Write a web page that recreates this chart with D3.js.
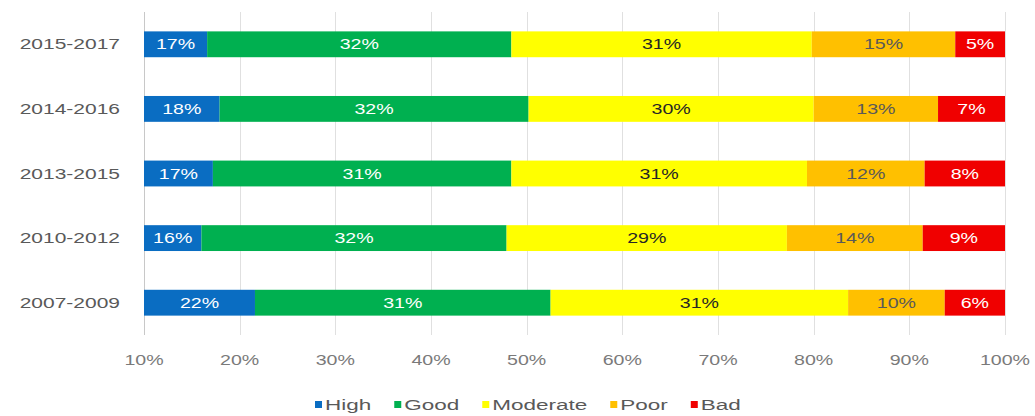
<!DOCTYPE html>
<html>
<head>
<meta charset="utf-8">
<script src="https://cdn.jsdelivr.net/npm/d3@7"></script>
<style>
  html, body { margin: 0; padding: 0; background: #ffffff; }
  svg { display: block; font-family: "Liberation Sans", Arial, sans-serif; }
</style>
</head>
<body>
<svg id="chart" width="1035" height="416"></svg>
<script>
// ---- data (percent; labels are these rounded) ----
const categories = ["2015-2017", "2014-2016", "2013-2015", "2010-2012", "2007-2009"];
const seriesNames = ["High", "Good", "Moderate", "Poor", "Bad"];
const high     = [16.6, 17.9, 17.2, 16.0, 21.6];
const good     = [31.8, 32.3, 31.2, 31.9, 30.9];
const moderate = [31.4, 29.8, 30.9, 29.3, 31.1];
const poor     = [15.0, 13.0, 12.3, 14.2, 10.1];
const bad      = [5.2, 7.0, 8.4, 8.6, 6.3];
const tickValues = [0.1, 0.2, 0.3, 0.4, 0.5, 0.6, 0.7, 0.8, 0.9, 1.0];
const tickLabels = ["10%", "20%", "30%", "40%", "50%", "60%", "70%", "80%", "90%", "100%"];

const colors = ["#0a6dc2", "#00b050", "#ffff00", "#ffc000", "#f00000"];
const labelColors = ["#ffffff", "#ffffff", "#262626", "#595959", "#ffffff"];

const seriesValues = [high, good, moderate, poor, bad];
const rows = categories.map((c, i) => {
  const o = { cat: c };
  seriesNames.forEach((s, k) => { o[s] = seriesValues[k][i] / 100; });
  return o;
});
const stacked = d3.stack().keys(seriesNames)(rows);

// ---- layout ----
const SX = 1.4; // horizontal stretch of text as in the reference
const SXL = 1.5; // legend text stretch
const svg = d3.select("#chart");
const x = d3.scaleLinear().domain([0.1, 1.0]).range([144, 1005]);
const y = d3.scaleBand().domain(categories).range([12, 335]).paddingInner(0.6).paddingOuter(0.3);

function stretchText(sel, fx, fy) {
  sel.attr("x", 0).attr("y", 0)
     .attr("transform", (d, i) => `translate(${fx(d, i)},${fy(d, i)}) scale(${SX},1)`);
}

// gridlines
svg.append("g").selectAll("line").data(tickValues).join("line")
  .attr("x1", d => Math.round(x(d)) + 0.5).attr("x2", d => Math.round(x(d)) + 0.5)
  .attr("y1", 12).attr("y2", 335)
  .attr("stroke", (d, i) => i === 0 ? "#c8c8c8" : "#e0e0e0")
  .attr("stroke-width", 1);

// bars
const clampX = v => x(Math.max(0.1, Math.min(1, v)));
const layers = svg.append("g").selectAll("g").data(stacked).join("g")
  .attr("fill", (d, i) => colors[i]);
layers.selectAll("rect").data(d => d).join("rect")
  .attr("x", d => clampX(d[0]))
  .attr("width", d => clampX(d[1]) - clampX(d[0]))
  .attr("y", d => y(d.data.cat))
  .attr("height", y.bandwidth());

// bar labels
const fmt = d3.format(".0%");
const labelLayers = svg.append("g").selectAll("g").data(stacked).join("g")
  .attr("fill", (d, i) => labelColors[i]);
labelLayers.selectAll("text").data(d => d).join("text")
  .attr("text-anchor", "middle")
  .attr("font-size", 14)
  .text(d => fmt(d[1] - d[0]))
  .call(stretchText,
        d => (clampX(d[0]) + clampX(d[1])) / 2,
        d => y(d.data.cat) + y.bandwidth() / 2 + 5);

// category labels
svg.append("g").selectAll("text").data(categories).join("text")
  .attr("text-anchor", "end")
  .attr("font-size", 15)
  .attr("fill", "#595959")
  .text(d => d)
  .call(stretchText, () => 120, d => y(d) + y.bandwidth() / 2 + 5);

// x tick labels
svg.append("g").selectAll("text").data(tickValues).join("text")
  .attr("text-anchor", "middle")
  .attr("font-size", 14)
  .attr("fill", "#7a7a7a")
  .text((d, i) => tickLabels[i])
  .call(stretchText, d => x(d), () => 365);

// legend
const legend = svg.append("g");
let lx = 315;
seriesNames.forEach((name, i) => {
  legend.append("rect")
    .attr("x", lx).attr("y", 401).attr("width", 7).attr("height", 7)
    .attr("fill", colors[i]);
  const t = legend.append("text")
    .attr("font-size", 15)
    .attr("fill", "#595959")
    .attr("transform", `translate(${lx + 10},410) scale(${SXL},1)`)
    .text(name);
  const w = t.node().getComputedTextLength() * SXL;
  lx += 10 + w + 23;
});
</script>
</body>
</html>
